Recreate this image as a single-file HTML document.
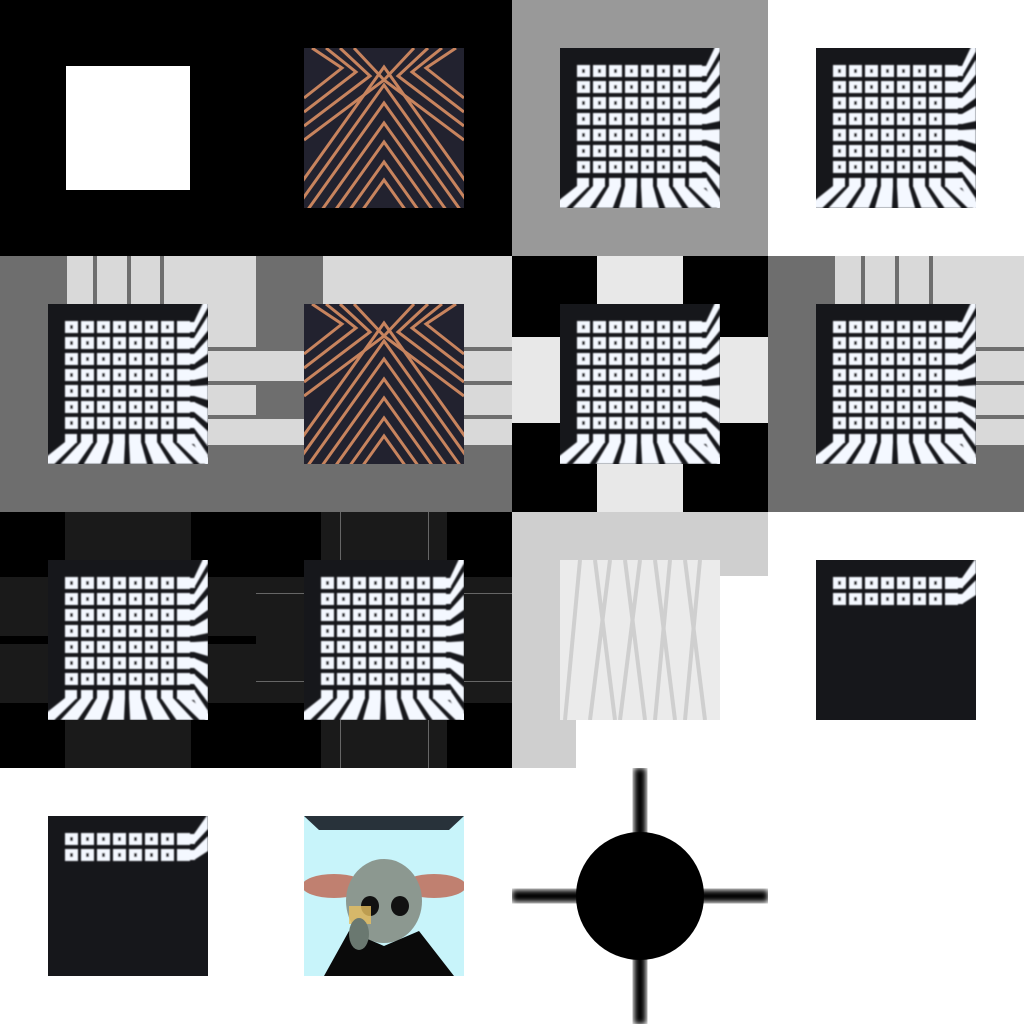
<!DOCTYPE html>
<html><head><meta charset="utf-8">
<style>
html,body{margin:0;padding:0;background:#fff;}
#root{position:relative;width:1024px;height:1024px;overflow:hidden;background:#fff;}
.r{position:absolute;}
svg{position:absolute;}
</style></head>
<body>
<div id="root">
<div class="r" style="left:0;top:0;width:512px;height:256px;background:#000"></div>
<div class="r" style="left:66px;top:66px;width:124px;height:124px;background:#fff"></div>
<div class="r" style="left:512px;top:0;width:256px;height:256px;background:#999"></div>

<div class="r" style="left:0;top:256px;width:512px;height:256px;background:#6e6e6e"></div>
<div class="r" style="left:67px;top:256px;width:26px;height:48px;background:#d9d9d9"></div>
<div class="r" style="left:97px;top:256px;width:30px;height:48px;background:#d9d9d9"></div>
<div class="r" style="left:131px;top:256px;width:29px;height:48px;background:#d9d9d9"></div>
<div class="r" style="left:164px;top:256px;width:92px;height:91px;background:#d9d9d9"></div>
<div class="r" style="left:208px;top:351px;width:96px;height:30px;background:#d9d9d9"></div>
<div class="r" style="left:208px;top:385px;width:48px;height:30px;background:#d9d9d9"></div>
<div class="r" style="left:208px;top:419px;width:96px;height:26px;background:#d9d9d9"></div>
<div class="r" style="left:323px;top:256px;width:189px;height:91px;background:#d9d9d9"></div>
<div class="r" style="left:464px;top:351px;width:48px;height:30px;background:#d9d9d9"></div>
<div class="r" style="left:464px;top:385px;width:48px;height:30px;background:#d9d9d9"></div>
<div class="r" style="left:464px;top:419px;width:48px;height:26px;background:#d9d9d9"></div>

<div class="r" style="left:512px;top:256px;width:256px;height:256px;background:#000"></div>
<div class="r" style="left:597px;top:256px;width:86px;height:256px;background:#e8e8e8"></div>
<div class="r" style="left:512px;top:337px;width:256px;height:86px;background:#e8e8e8"></div>

<div class="r" style="left:768px;top:256px;width:256px;height:256px;background:#6e6e6e"></div>
<div class="r" style="left:835px;top:256px;width:26px;height:48px;background:#d9d9d9"></div>
<div class="r" style="left:865px;top:256px;width:30px;height:48px;background:#d9d9d9"></div>
<div class="r" style="left:899px;top:256px;width:30px;height:48px;background:#d9d9d9"></div>
<div class="r" style="left:933px;top:256px;width:91px;height:91px;background:#d9d9d9"></div>
<div class="r" style="left:976px;top:351px;width:48px;height:30px;background:#d9d9d9"></div>
<div class="r" style="left:976px;top:385px;width:48px;height:30px;background:#d9d9d9"></div>
<div class="r" style="left:976px;top:419px;width:48px;height:26px;background:#d9d9d9"></div>

<div class="r" style="left:0;top:512px;width:512px;height:256px;background:#000"></div>
<div class="r" style="left:65px;top:512px;width:126px;height:256px;background:#1a1a1a"></div>
<div class="r" style="left:0;top:577px;width:256px;height:59px;background:#1a1a1a"></div>
<div class="r" style="left:0;top:644px;width:256px;height:59px;background:#1a1a1a"></div>
<div class="r" style="left:321px;top:512px;width:126px;height:256px;background:#1a1a1a"></div>
<div class="r" style="left:256px;top:577px;width:256px;height:126px;background:#1a1a1a"></div>
<div class="r" style="left:340px;top:512px;width:1px;height:256px;background:#666"></div>
<div class="r" style="left:428px;top:512px;width:1px;height:256px;background:#666"></div>
<div class="r" style="left:256px;top:593px;width:256px;height:1px;background:#666"></div>
<div class="r" style="left:256px;top:681px;width:256px;height:1px;background:#666"></div>

<div class="r" style="left:512px;top:512px;width:256px;height:256px;background:#cfcfcf"></div>
<div class="r" style="left:720px;top:576px;width:48px;height:192px;background:#fff"></div>
<div class="r" style="left:576px;top:720px;width:192px;height:48px;background:#fff"></div>

<svg style="left:512px;top:768px" width="256" height="256">
<defs><filter id="bl"><feGaussianBlur stdDeviation="3"/></filter></defs>
<rect x="0" y="122" width="256" height="12" fill="#000" filter="url(#bl)"/>
<rect x="122" y="0" width="12" height="256" fill="#000" filter="url(#bl)"/>
<circle cx="128" cy="128" r="64" fill="#000"/>
</svg>

<svg style="left:560px;top:560px" width="160" height="160">
<rect width="160" height="160" fill="#e6e6e6"/>
<g fill="none" stroke="#c4c4c4" stroke-width="4">
<path d="M20 0 L5 160 M50 0 L30 160 M80 0 L60 160 M110 0 L95 160 M140 0 L125 160"/>
<path d="M35 0 L55 160 M65 0 L85 160 M95 0 L115 160 M125 0 L145 160"/>
</g>
<rect width="160" height="160" fill="#fff" opacity="0.2"/>
</svg>

<svg style="left:304px;top:816px" width="160" height="160">
<rect width="160" height="160" fill="#c8f4fa"/>
<polygon points="0,0 160,0 145,14 15,14" fill="#28323a"/>
<ellipse cx="30" cy="70" rx="32" ry="12" fill="#c08070"/>
<ellipse cx="130" cy="70" rx="32" ry="12" fill="#c08070"/>
<ellipse cx="80" cy="85" rx="38" ry="42" fill="#8c9890"/>
<ellipse cx="66" cy="90" rx="9" ry="10" fill="#111"/>
<ellipse cx="96" cy="90" rx="9" ry="10" fill="#111"/>
<polygon points="20,160 45,115 80,130 115,115 150,160" fill="#0a0a0a"/>
<rect x="45" y="90" width="22" height="18" fill="#e8c060" opacity="0.8"/>
<ellipse cx="55" cy="118" rx="10" ry="16" fill="#6a7870"/>
</svg>
</div>
<script>
const NS='http://www.w3.org/2000/svg';
const root=document.getElementById('root');
function el(t,a,p){const e=document.createElementNS(NS,t);for(const k in a)e.setAttribute(k,a[k]);if(p)p.appendChild(e);return e;}
function glyphPanel(x,y,rows,stripes,name){
  const s=el('svg',{width:160,height:160},root);
  s.style.left=x+'px';s.style.top=y+'px';
  
  
  el('rect',{width:160,height:160,fill:'#16171b'},s);
  const d=el('defs',{},s);const f=el('filter',{id:'gb'+x+'_'+y},d);el('feGaussianBlur',{stdDeviation:0.8},f);
  const g=el('g',{filter:'url(#gb'+x+'_'+y+')'},s);
  for(let r=0;r<rows;r++)for(let c=0;c<8;c++){
    const gx=17+c*16, gy=17+r*16;
    el('rect',{x:gx,y:gy,width:13,height:12,fill:'#f4f8ff'},g);
    el('rect',{x:gx+5,y:gy+4,width:3,height:4,fill:'#16171b'},g);
  }
  const nr=stripes?8:rows;
  for(let r=0;r<nr;r++){
    const gy=17+r*16+6;
    const ty=stripes?80+(gy-80)*1.45:gy-(rows-r)*6-4;
    el('polygon',{points:`146,${gy-5} 160,${ty-9} 160,${ty+6} 146,${gy+5}`,fill:'#f4f8ff'},g);
    el('rect',{x:134,y:gy-5,width:13,height:10,fill:'#f4f8ff'},g);
  }
  if(stripes){
    for(let c=0;c<8;c++){
      const gx=17+c*16+6;
      const bx=80+(gx-80)*1.45;
      el('rect',{x:gx-6,y:130,width:12,height:9,fill:'#f4f8ff'},g);
      el('polygon',{points:`${gx-6},138 ${gx+6},138 ${bx+9},160 ${bx-8},160`,fill:'#f4f8ff'},g);
    }
  }
}
glyphPanel(560,48,7,true,'glyph-panel');
glyphPanel(816,48,7,true,'glyph-panel');
glyphPanel(48,304,7,true,'glyph-panel');
glyphPanel(560,304,7,true,'glyph-panel');
glyphPanel(816,304,7,true,'glyph-panel');
glyphPanel(48,560,7,true,'glyph-panel');
glyphPanel(304,560,7,true,'glyph-panel');
glyphPanel(816,560,2,false,'glyph-panel-partial');
glyphPanel(48,816,2,false,'glyph-panel-partial');

function copper(x,y){
  const s=el('svg',{width:160,height:160},root);
  s.style.left=x+'px';s.style.top=y+'px';
  
  
  el('rect',{width:160,height:160,fill:'#22222f'},s);
  const apex=[19,37,55,75,94,114,132];
  for(const a of apex){
    el('polyline',{points:`-20,${a+140} 80,${a} 180,${a+140}`,fill:'none',stroke:'#c8845e','stroke-width':3},s);
  }
  for(let k=0;k<4;k++){
    const o=8+k*14;
    el('polyline',{points:`${o},0 ${o+30},${20+k*4} 0,${50+k*14}`,fill:'none',stroke:'#c8845e','stroke-width':3},s);
    el('polyline',{points:`${160-o},0 ${130-o},${20+k*4} 160,${50+k*14}`,fill:'none',stroke:'#c8845e','stroke-width':3},s);
  }
}
copper(304,48);
copper(304,304);
</script>
</body></html>
